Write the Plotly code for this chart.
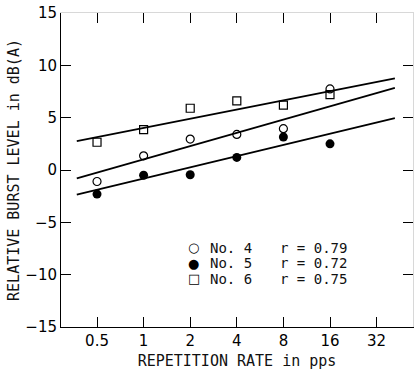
import math
import plotly.graph_objects as go

# ---- data ----
rates = [0.5, 1, 2, 4, 8, 16]
no4 = [-1.1, 1.35, 2.95, 3.4, 3.95, 7.75]
no5 = [-2.3, -0.5, -0.45, 1.2, 3.15, 2.5]
no6 = [2.65, 3.85, 5.9, 6.6, 6.2, 7.2]

fit_x = [0.37, 42]
fit_no4 = [-0.8, 7.85]
fit_no5 = [-2.36, 4.95]
fit_no6 = [2.75, 8.75]

labels = ["No. 4", "No. 5", "No. 6"]
r_values = ["0.79", "0.72", "0.75"]
glyphs = ["○", "●", "□"]

x_ticks = [0.5, 1, 2, 4, 8, 16, 32]
x_ticktext = ["0.5", "1", "2", "4", "8", "16", "32"]
y_ticks = [-15, -10, -5, 0, 5, 10, 15]

FONT = "DejaVu Sans"
MONO = "DejaVu Sans Mono"
xr = [math.log10(0.2926), math.log10(55)]

fig = go.Figure()

for fy in (fit_no6, fit_no4, fit_no5):
    fig.add_trace(go.Scatter(x=fit_x, y=fy, mode="lines",
                             line=dict(color="black", width=1.8),
                             showlegend=False, hoverinfo="skip"))

fig.add_trace(go.Scatter(x=rates, y=no4, mode="markers", name="No. 4",
                         marker=dict(symbol="circle-open", size=8, color="black",
                                     line=dict(width=1.2, color="black"))))
fig.add_trace(go.Scatter(x=rates, y=no5, mode="markers", name="No. 5",
                         marker=dict(symbol="circle", size=9, color="black")))
fig.add_trace(go.Scatter(x=rates, y=no6, mode="markers", name="No. 6",
                         marker=dict(symbol="square-open", size=8, color="black",
                                     line=dict(width=1.2, color="black"))))
# carrier for mirrored (top/right) tick axes
fig.add_trace(go.Scatter(x=[], y=[], xaxis="x2", yaxis="y2", showlegend=False))

# in-plot key
rows_y = [0.2516, 0.2028, 0.1541]
for g, lab, rv, yy in zip(glyphs, labels, r_values, rows_y):
    fig.add_annotation(x=0.3778, y=yy, xref="paper", yref="paper", text=g,
                       showarrow=False, xanchor="center", yanchor="middle",
                       font=dict(family=FONT, size=13, color="black"))
    fig.add_annotation(x=0.4176, y=yy, xref="paper", yref="paper", text=lab,
                       showarrow=False, xanchor="left", yanchor="middle",
                       font=dict(family=MONO, size=14, color="#111"))
    fig.add_annotation(x=0.6165, y=yy, xref="paper", yref="paper", text="r = " + rv,
                       showarrow=False, xanchor="left", yanchor="middle",
                       font=dict(family=MONO, size=14, color="#111"))

axis_common = dict(showgrid=False, zeroline=False, ticks="inside", ticklen=10,
                   tickwidth=1, tickcolor="black", linecolor="black", linewidth=1)

fig.update_layout(
    width=417, height=371,
    margin=dict(l=61, r=4, t=10, b=43),
    paper_bgcolor="white", plot_bgcolor="white",
    showlegend=False,
    font=dict(family=FONT, size=15, color="black"),
    xaxis=dict(type="log", range=xr, tickvals=x_ticks, ticktext=x_ticktext,
               showline=True,
               title=dict(text="REPETITION RATE in pps", standoff=6,
                          font=dict(family=MONO, size=15, color="#111")),
               **axis_common),
    yaxis=dict(range=[-15, 15], tickvals=y_ticks, showline=True,
               title=dict(text="RELATIVE BURST LEVEL in dB(A)", standoff=2,
                          font=dict(family=MONO, size=15, color="#111")),
               **axis_common),
    xaxis2=dict(type="log", range=xr, tickvals=x_ticks, overlaying="x", side="top",
                anchor="y2", showticklabels=False, showline=True,
                **{**axis_common, "linecolor": "#d8d8d8"}),
    yaxis2=dict(range=[-15, 15], tickvals=y_ticks, overlaying="y", side="right",
                anchor="x2", showticklabels=False, showline=True,
                **{**axis_common, "linecolor": "#d8d8d8"}),
)

fig.write_html("out.html")
